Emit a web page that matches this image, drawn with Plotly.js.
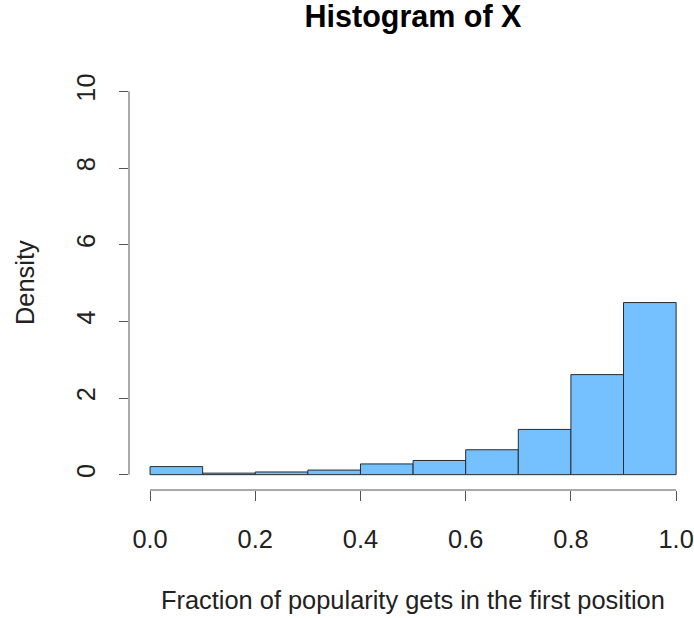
<!DOCTYPE html>
<html>
<head>
<meta charset="utf-8">
<script src="https://cdn.plot.ly/plotly-3.0.1.min.js"></script>
<style>html,body{margin:0;padding:0;background:#fff;}#chart{width:694px;height:618px;}</style>
</head>
<body>
<div id="chart"></div>
<script>
// Histogram bins (left edges) and densities
var binLeft = [0.0, 0.1, 0.2, 0.3, 0.4, 0.5, 0.6, 0.7, 0.8, 0.9];
var binWidth = 0.1;
var density = [0.21, 0.04, 0.07, 0.12, 0.28, 0.37, 0.65, 1.18, 2.61, 4.49];
var xTicks = [0.0, 0.2, 0.4, 0.6, 0.8, 1.0];
var yTicks = [0, 2, 4, 6, 8, 10];

var FONT = '"Liberation Sans", Arial, Helvetica, sans-serif';
var FS = 25.4;

var trace = {
  type: 'bar',
  x: binLeft,
  y: density,
  width: binLeft.map(function(){return binWidth;}),
  offset: 0,
  marker: {color: '#75C1FF', line: {color: '#2b2b2b', width: 1}},
  hoverinfo: 'skip'
};

var layout = {
  width: 694, height: 618,
  margin: {l: 129, r: 0, t: 76, b: 128, pad: 0},
  paper_bgcolor: '#ffffff', plot_bgcolor: '#ffffff',
  showlegend: false,
  font: {family: FONT, size: FS, color: '#000'},
  title: {text: '<b>Histogram of X</b>', font: {family: FONT, size: 30.5, color: '#000'},
          x: 413/694, xref: 'container', xanchor: 'center',
          y: 1 - 16/618, yref: 'container', yanchor: 'middle'},
  xaxis: {
    range: [-0.04, 1.034], showgrid: false, zeroline: false, showline: false,
    tickmode: 'array', tickvals: xTicks, ticktext: xTicks.map(function(v){return v.toFixed(1);}),
    ticks: 'outside', ticklen: 10, tickwidth: 1, tickcolor: '#555',
    ticklabelstandoff: 17,
    tickfont: {family: FONT, size: FS, color: '#222'}, fixedrange: true
  },
  yaxis: {
    range: [-0.4, 10.4], showgrid: false, zeroline: false, showline: false,
    tickmode: 'array', tickvals: yTicks, ticktext: yTicks.map(String),
    ticks: 'outside', ticklen: 9, tickwidth: 1, tickcolor: '#555',
    tickangle: -90, ticklabelstandoff: 14,
    tickfont: {family: FONT, size: FS, color: '#222'}, fixedrange: true
  },
  shapes: [
    {type: 'line', xref: 'x', yref: 'paper', x0: xTicks[0], x1: xTicks[xTicks.length-1], y0: 0, y1: 0,
     line: {color: '#555', width: 1}},
    {type: 'line', xref: 'paper', yref: 'y', x0: 0, x1: 0, y0: yTicks[0], y1: yTicks[yTicks.length-1],
     line: {color: '#555', width: 1}}
  ],
  annotations: [
    {text: 'Fraction of popularity gets in the first position', xref: 'paper', yref: 'paper',
     x: (413-129)/565, y: (490-600)/414, xanchor: 'center', yanchor: 'middle', showarrow: false,
     font: {family: FONT, size: FS, color: '#222'}},
    {text: 'Density', xref: 'paper', yref: 'paper', textangle: -90,
     x: (25-129)/565, y: 0.5, xanchor: 'center', yanchor: 'middle', showarrow: false,
     font: {family: FONT, size: FS, color: '#222'}}
  ]
};

Plotly.newPlot('chart', [trace], layout, {displayModeBar: false, staticPlot: true});
</script>
</body>
</html>
